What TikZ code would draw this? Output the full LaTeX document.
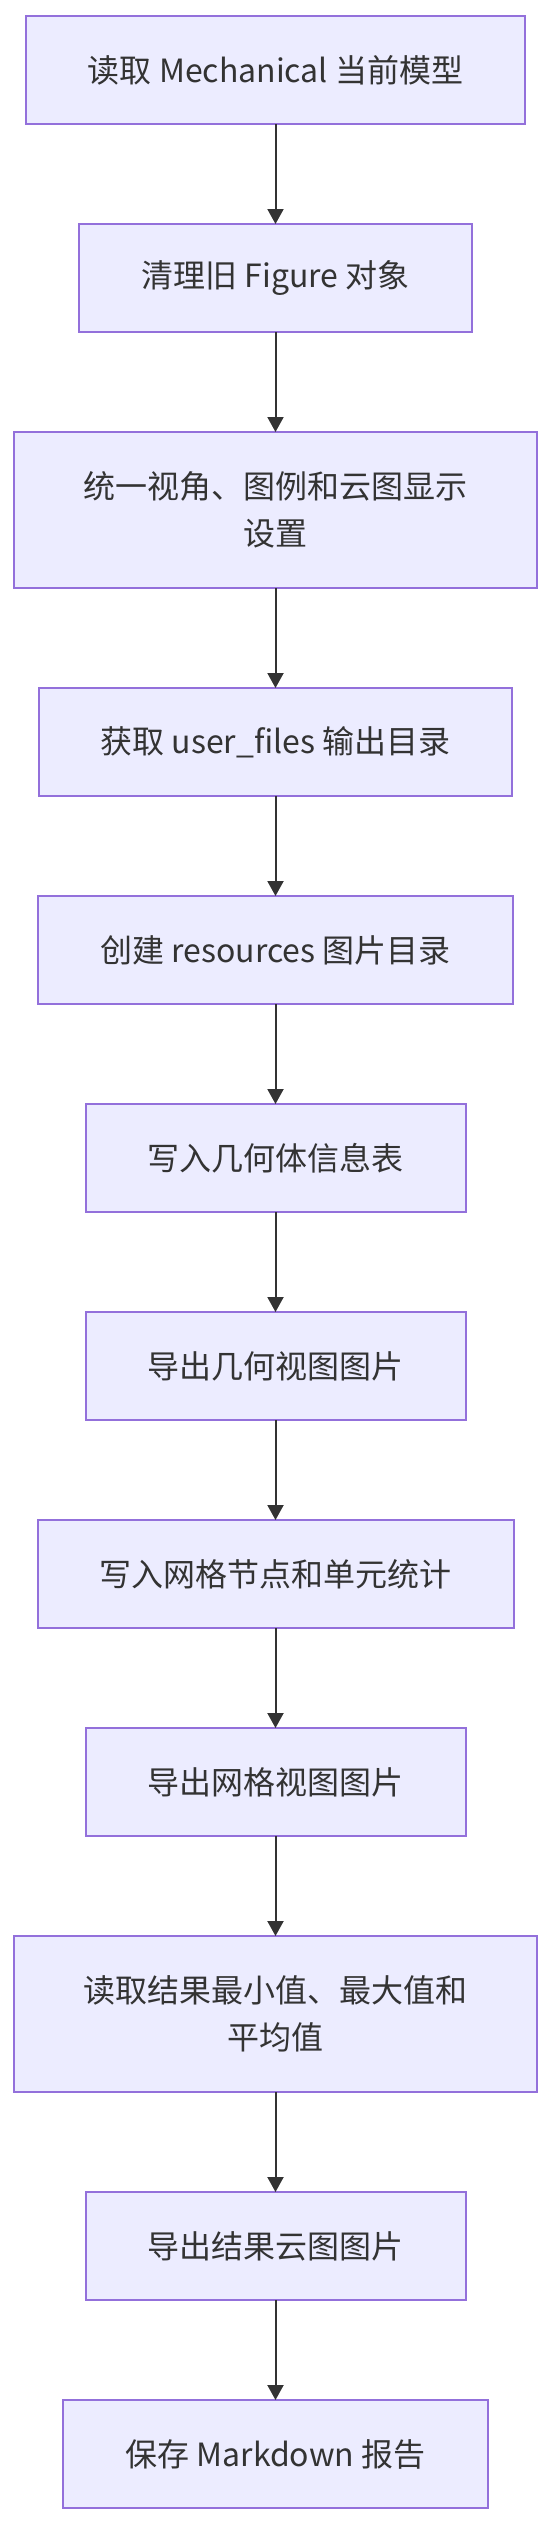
\documentclass[tikz,border=0pt]{standalone}
\usepackage{fontspec}
\setmainfont{Noto Sans CJK SC}
\usetikzlibrary{arrows.meta,positioning}
\definecolor{BoxFill}{HTML}{ECECFF}
\definecolor{BoxLine}{HTML}{9370DB}
\definecolor{Ink}{HTML}{333333}
\tikzset{step box/.style ={
        rectangle,
        fill=BoxFill,
        draw=BoxLine,
        line width=1pt,
        text=Ink,
        font=\fontsize{16pt}{23.5pt}\selectfont,
        inner xsep=31pt,
        inner ysep=0pt,
        outer sep=0pt,
        minimum height=54pt,
        align=center
    },
    wide box/.style ={
        step box,
        minimum width=261.5pt,
        minimum height=78pt
    },
    flow/.style ={
        draw=Ink,
        line width=1pt,
        -{Triangle[length=7.5pt,width=8pt]}
    }}

\begin{document}
\begin{tikzpicture}
    [
    node distance=50pt
    ]
    \useasboundingbox (0,0) rectangle (275.5pt,-1261.5pt);
    \node (read)[step box,anchor=north] at (137.75pt,-8pt) {读取 Mechanical 当前模型};
    \node (clean)[step box,below=of read] {清理旧 Figure 对象};
    \node (view)[wide box,below=of clean] {统一视角、图例和云图显示\\设置};
    \node (userdir)[step box,below=of view] {获取 user\_files 输出目录};
    \node (resdir)[step box,below=of userdir] {创建 resources 图片目录};
    \node (geotab)[step box,below=of resdir] {写入几何体信息表};
    \node (geoimg)[step box,below=of geotab] {导出几何视图图片};
    \node (meshtab)[step box,below=of geoimg] {写入网格节点和单元统计};
    \node (meshimg)[step box,below=of meshtab] {导出网格视图图片};
    \node (result)[wide box,below=of meshimg] {读取结果最小值、最大值和\\平均值};
    \node (resimg)[step box,below=of result] {导出结果云图图片};
    \node (report)[step box,below=of resimg] {保存 Markdown 报告};

    \draw[flow] (read) -- (clean);
    \draw[flow] (clean) -- (view);
    \draw[flow] (view) -- (userdir);
    \draw[flow] (userdir) -- (resdir);
    \draw[flow] (resdir) -- (geotab);
    \draw[flow] (geotab) -- (geoimg);
    \draw[flow] (geoimg) -- (meshtab);
    \draw[flow] (meshtab) -- (meshimg);
    \draw[flow] (meshimg) -- (result);
    \draw[flow] (result) -- (resimg);
    \draw[flow] (resimg) -- (report);

\end{tikzpicture}
\end{document}
